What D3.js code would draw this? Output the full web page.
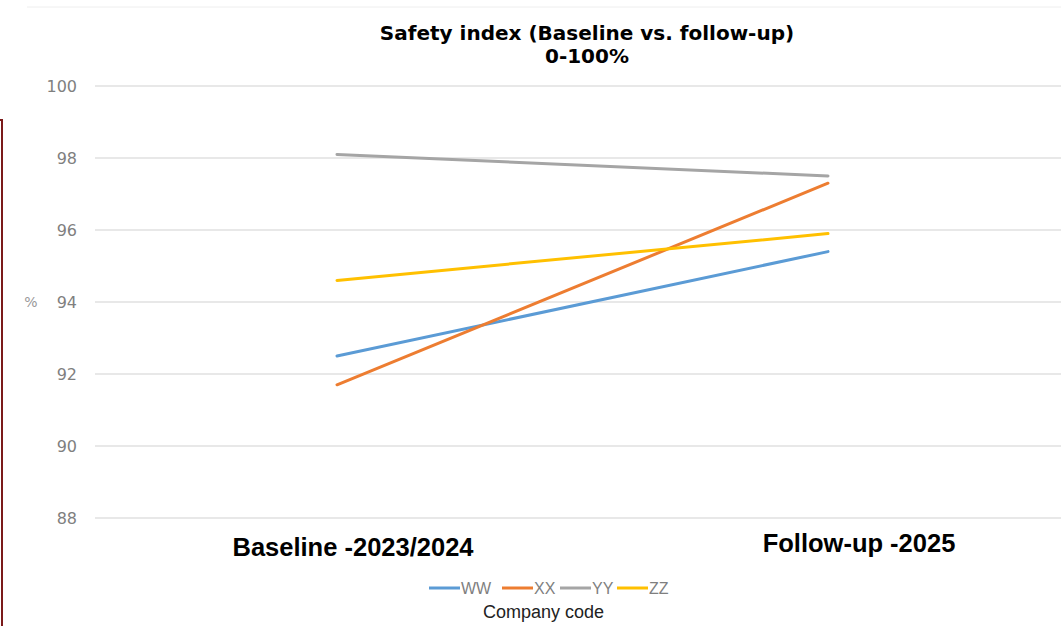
<!DOCTYPE html>
<html><head><meta charset="utf-8">
<script src="https://cdn.jsdelivr.net/npm/d3@7"></script>
<style>body{margin:0;background:#fff;}svg{display:block;}</style>
</head><body>
<svg id="chart" width="1061" height="626"></svg>
<script>
const categories = ["Baseline -2023/2024", "Follow-up -2025"];
const seriesNames = ["WW", "XX", "YY", "ZZ"];
const seriesColors = ["#5B9BD5", "#ED7D31", "#A5A5A5", "#FFC000"];
const valuesWW = [92.5, 95.4];
const valuesXX = [91.7, 97.3];
const valuesYY = [98.1, 97.5];
const valuesZZ = [94.6, 95.9];
const yTicks = [88, 90, 92, 94, 96, 98, 100];
const titleLines = ["Safety index (Baseline vs. follow-up)", "0-100%"];
const legendTitle = "Company code";
const yLabel = "%";

const series = [valuesWW, valuesXX, valuesYY, valuesZZ].map((v, i) => ({name: seriesNames[i], color: seriesColors[i], values: v}));

const svg = d3.select("#chart");
const W = 1061, H = 626;

// faint top border & left dark red frame
svg.append("line").attr("x1", 27).attr("x2", W).attr("y1", 7).attr("y2", 7).attr("stroke", "#eeeeee").attr("stroke-width", 1);
svg.append("line").attr("x1", 2).attr("x2", 2).attr("y1", 120).attr("y2", H).attr("stroke", "#7b1a1a").attr("stroke-width", 2);
svg.append("line").attr("x1", 0).attr("x2", 3).attr("y1", 120).attr("y2", 120).attr("stroke", "#7b1a1a").attr("stroke-width", 2);

const x = d3.scaleBand().domain(categories).range([91.5, 1073.5]);
const y = d3.scaleLinear().domain([88, 100]).range([518, 86]);
const cx = c => x(c) + x.bandwidth() / 2;

// gridlines
svg.append("g").selectAll("line").data(yTicks).join("line")
  .attr("x1", 95).attr("x2", W)
  .attr("y1", d => y(d)).attr("y2", d => y(d))
  .attr("stroke", "#e0e0e0").attr("stroke-width", 1.5);

// y axis labels
const yAxis = d3.axisLeft(y).tickValues(yTicks).tickSize(0).tickPadding(0);
const gy = svg.append("g").attr("transform", "translate(77,0)").call(yAxis);
gy.select(".domain").remove();
gy.selectAll("text").attr("font-family", "'DejaVu Sans', Verdana, sans-serif").attr("font-size", 16).attr("fill", "#7f7f7f").attr("dy", "0.35em");

svg.append("text").attr("x", 31).attr("y", y(94)).attr("dy", "0.35em").attr("text-anchor", "middle")
  .attr("font-family", "'DejaVu Sans', sans-serif").attr("font-size", 14).attr("fill", "#999").text(yLabel);

// lines
const line = d3.line().x((d, i) => cx(categories[i])).y(d => y(d));
svg.append("g").selectAll("path").data(series).join("path")
  .attr("d", d => line(d.values))
  .attr("fill", "none").attr("stroke", d => d.color).attr("stroke-width", 3).attr("stroke-linecap", "round");

// category labels
const catOffsets = [16, 31];
const catY = [556, 552];
svg.append("g").selectAll("text").data(categories).join("text")
  .attr("x", (d, i) => cx(d) + catOffsets[i]).attr("y", (d, i) => catY[i])
  .attr("text-anchor", "middle")
  .attr("font-family", "'Liberation Sans', Arial, sans-serif").attr("font-weight", "bold").attr("font-size", 25.5)
  .attr("fill", "#000").text(d => d);

// title
svg.append("g").selectAll("text").data(titleLines).join("text")
  .attr("x", 587).attr("y", (d, i) => 40 + i * 23)
  .attr("text-anchor", "middle")
  .attr("font-family", "'DejaVu Sans', Verdana, sans-serif").attr("font-weight", "bold").attr("font-size", 20)
  .attr("fill", "#000").text(d => d);

// legend
const legendX = [429, 502, 560, 617];
const lg = svg.append("g").selectAll("g").data(series).join("g")
  .attr("transform", (d, i) => `translate(${legendX[i]},588)`);
lg.append("line").attr("x1", 0).attr("x2", 31).attr("y1", 0).attr("y2", 0)
  .attr("stroke", d => d.color).attr("stroke-width", 3);
lg.append("text").attr("x", 32).attr("y", 0).attr("dy", "0.35em")
  .attr("font-family", "'Liberation Sans', Arial, sans-serif").attr("font-size", 16).attr("fill", "#7f7f7f")
  .text(d => d.name);

svg.append("text").attr("x", 543.5).attr("y", 618).attr("text-anchor", "middle")
  .attr("font-family", "'Liberation Sans', Arial, sans-serif").attr("font-size", 18).attr("fill", "#222")
  .text(legendTitle);
</script>
</body></html>
